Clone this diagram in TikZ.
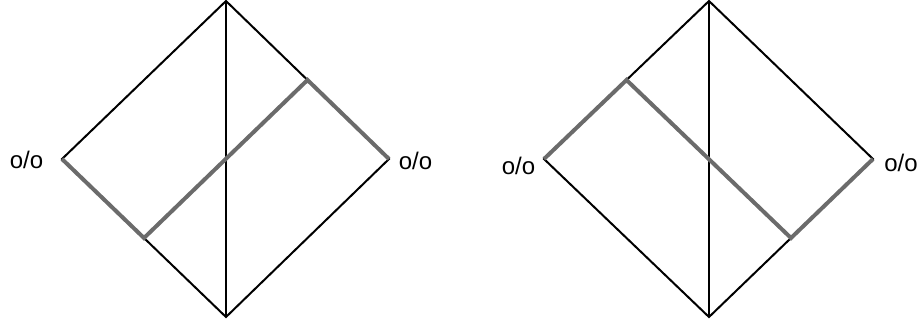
\documentclass[tikz,border=0pt]{standalone}
\usepackage{fontspec}
\setmainfont{Liberation Sans}
\usetikzlibrary{calc}
\begin{document}
\begin{tikzpicture}[x=1pt,y=-1pt,
  edge/.style={draw=black,line width=2pt,line join=miter},
  hot/.style={draw=black!58,line width=4pt,line join=miter},
  lbl/.style={font=\fontsize{24}{27}\selectfont,inner sep=0pt}]
\useasboundingbox (0,0) rectangle (919,322);
% left diamond
\coordinate (aT) at (226,1);
\coordinate (aL) at (62,159);
\coordinate (aR) at (389,159);
\coordinate (aB) at (226,317);
\coordinate (aM1) at ($(aL)!0.5!(aB)$);
\coordinate (aM2) at ($(aT)!0.5!(aR)$);
\draw[edge] (aT) -- (aR) -- (aB) -- (aL) -- cycle;
\draw[edge] (aT) -- (aB);
\draw[hot] (aL) -- (aM1) -- (aM2) -- (aR);
\node[lbl] (la) at (26.5,160) {o/o};
\node[lbl] (ra) at (415.5,161) {o/o};
% right diamond
\coordinate (bT) at (709,1);
\coordinate (bL) at (544,159);
\coordinate (bR) at (873,159);
\coordinate (bB) at (709,317);
\coordinate (bM1) at ($(bL)!0.5!(bT)$);
\coordinate (bM2) at ($(bB)!0.5!(bR)$);
\draw[edge] (bT) -- (bR) -- (bB) -- (bL) -- cycle;
\draw[edge] (bT) -- (bB);
\draw[hot] (bL) -- (bM1) -- (bM2) -- (bR);
\node[lbl] (lb) at (518.5,166) {o/o};
\node[lbl] (rb) at (901,163) {o/o};
\end{tikzpicture}
\end{document}
